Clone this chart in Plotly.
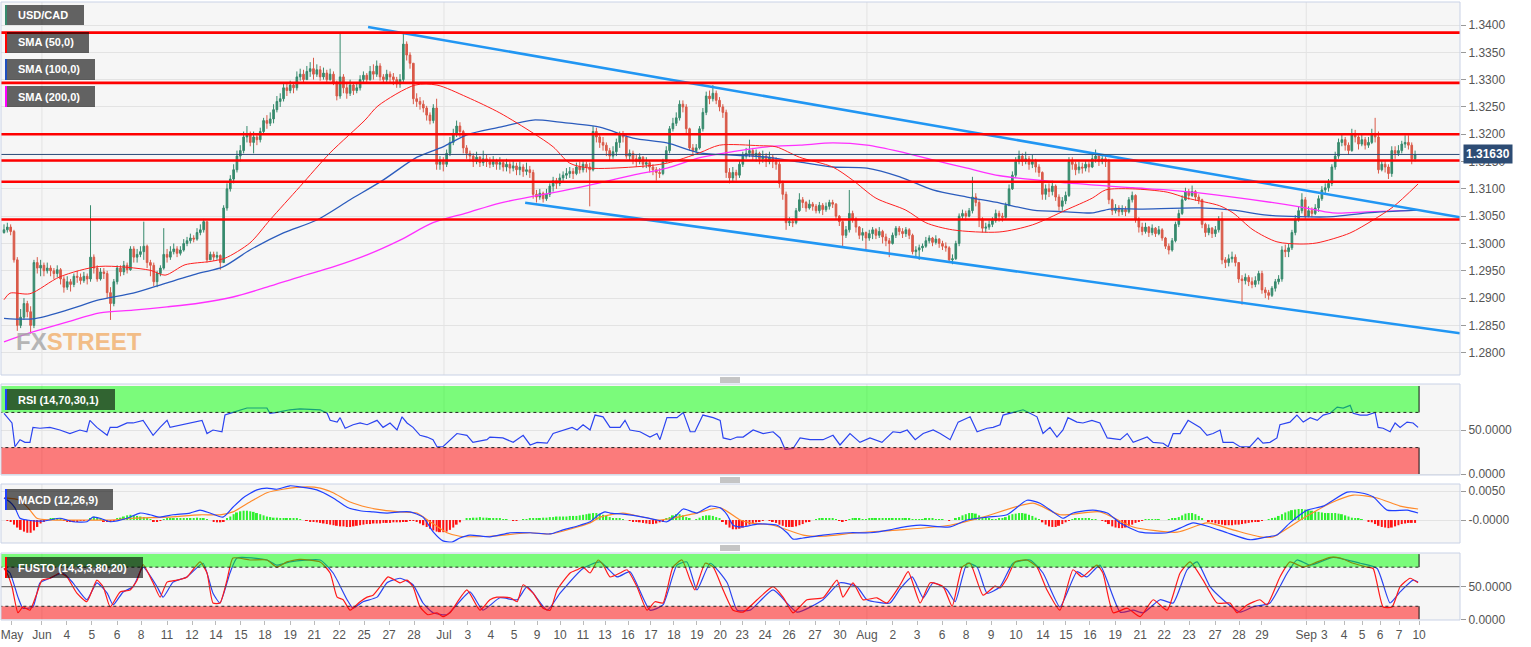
import plotly.graph_objects as go

# ===================== DATA =====================
# Prices are stored in pips relative to BASE (1 pip = 0.0001); one entry per 4h candle.
BASE = 1.3000
PIP = 0.0001
FIRST_OPEN_PIPS = 20

CLOSE_PIPS = [
    25, 30, 22, -30, -150, -135, -110, -125, -150, -35,
    -45, -40, -50, -45, -50, -55, -48, -65, -80, -70,
    -75, -60, -62, -68, -60, -65, -25, -45, -65, -52,
    -55, -90, -110, -70, -45, -52, -40, -48, -10, -25,
    -20, -15, -5, -35, -40, -70, -55, -45, -20, -25,
    -15, -10, -18, -12, 0, 5, 10, 8, 20, 25,
    40, -30, -20, -25, -22, -35, 65, 100, 118, 135,
    160, 170, 195, 200, 185, 195, 190, 205, 225, 220,
    228, 245, 260, 265, 285, 280, 290, 285, 305, 310,
    300, 315, 320, 310, 318, 305, 312, 300, 310, 295,
    270, 305, 285, 275, 290, 280, 285, 300, 308, 300,
    315, 310, 325, 305, 300, 310, 305, 300, 292, 300,
    365, 345, 330, 265, 260, 255, 248, 235, 225, 248,
    145, 150, 145, 165, 185, 200, 215, 205, 175, 165,
    160, 150, 158, 148, 155, 150, 145, 150, 145, 148,
    140, 145, 138, 142, 135, 140, 132, 135, 130, 90,
    85, 92, 82, 90, 105, 115, 110, 120, 125, 128,
    132, 128, 140, 135, 145, 140, 135, 205, 195, 185,
    180, 170, 160, 168, 185, 200, 195, 160, 165, 155,
    150, 158, 145, 148, 140, 135, 130, 128, 150, 170,
    210, 220, 230, 255, 250, 210, 175, 170, 175, 210,
    240, 270, 265, 275, 262, 250, 240, 130, 120, 130,
    125, 145, 160, 165, 170, 160, 165, 155, 160, 150,
    158, 150, 145, 110, 90, 38, 40, 38, 60, 80,
    75, 65, 72, 68, 60, 70, 62, 68, 75, 72,
    50, 40, 15, 25, 55, 45, 30, 15, 20, 10,
    18, 25, 15, 22, 12, 5, 0, 15, 28, 22,
    18, 25, 15, -15, -12, -8, -5, 5, 10, 2,
    8, 0, -5, -8, -30, -28, 0, 50, 55, 50,
    60, 85, 75, 45, 28, 30, 35, 42, 55, 50,
    48, 70, 100, 125, 150, 160, 150, 155, 145, 150,
    140, 130, 90, 100, 95, 105, 85, 68, 78, 88,
    150, 145, 135, 140, 138, 145, 140, 155, 160, 150,
    155, 150, 80, 60, 65, 58, 62, 58, 80, 88,
    45, 30, 22, 30, 20, 28, 18, 25, 10, -5,
    -12, 5, 35, 55, 80, 95, 88, 95, 85, 80,
    35, 20, 28, 18, 25, 45, -30, -35, -28, -25,
    -35, -65, -68, -62, -70, -75, -68, -55, -85, -90,
    -95, -82, -70, -65, -12, -15, -8, 20, 45, 60,
    80, 50, 60, 55, 65, 82, 98, 102, 110, 140,
    160, 185, 190, 180, 170, 200, 195, 182, 190, 180,
    185, 200, 195, 135, 145, 140, 128, 170, 165, 170,
    182, 185, 180, 155, 163,
]

HIGH_PIPS = [
    35, 38, 35, 25, -25, -120, -100, -105, -115, -30,
    -25, -30, -35, -35, -40, -45, -40, -45, -60, -60,
    -65, -55, -50, -55, -52, -55, 70, -20, -40, -45,
    -45, -50, -80, -65, -40, -40, -32, -35, -5, -5,
    -10, -5, 40, -2, -30, -35, -50, -40, 28, -10,
    -5, 0, -5, -5, 8, 12, 18, 15, 28, 35,
    45, 40, -15, -15, -15, -20, 70, 110, 125, 145,
    170, 180, 205, 215, 205, 205, 200, 212, 230, 235,
    240, 255, 270, 275, 295, 292, 298, 295, 315, 320,
    318, 325, 332, 340, 328, 325, 322, 318, 320, 315,
    298, 385, 310, 295, 300, 295, 295, 308, 315, 312,
    325, 328, 335, 330, 310, 318, 315, 312, 305, 310,
    385, 370, 350, 330, 275, 268, 262, 252, 240, 255,
    265, 160, 158, 172, 195, 210, 225, 222, 208, 180,
    170, 165, 168, 160, 170, 162, 158, 160, 155, 158,
    152, 155, 150, 152, 148, 150, 145, 148, 142, 135,
    98, 100, 95, 100, 110, 122, 120, 128, 132, 138,
    140, 138, 148, 150, 152, 150, 148, 215, 212, 200,
    195, 185, 175, 178, 192, 205, 206, 198, 172, 170,
    162, 165, 160, 158, 152, 145, 140, 138, 155, 178,
    215, 230, 240, 262, 262, 255, 212, 182, 182, 215,
    248, 278, 280, 290, 280, 268, 255, 245, 138, 140,
    135, 152, 168, 175, 190, 175, 172, 168, 170, 165,
    168, 162, 158, 150, 115, 95, 48, 46, 65, 92,
    85, 78, 80, 76, 72, 76, 74, 75, 80, 80,
    74, 52, 42, 32, 98, 60, 48, 32, 28, 22,
    25, 30, 28, 30, 25, 18, 10, 20, 32, 32,
    28, 30, 28, 18, -5, -2, 0, 12, 15, 12,
    15, 10, 5, 2, -5, -20, 5, 55, 62, 60,
    65, 122, 92, 80, 48, 38, 42, 48, 62, 60,
    56, 75, 108, 132, 158, 170, 165, 168, 160, 162,
    155, 145, 132, 108, 110, 115, 108, 90, 85, 95,
    158, 158, 150, 150, 148, 152, 150, 162, 172, 165,
    162, 162, 155, 82, 72, 70, 70, 68, 85, 95,
    90, 48, 38, 38, 32, 35, 30, 32, 28, 12,
    0, 10, 40, 62, 88, 102, 100, 106, 98, 90,
    82, 38, 35, 30, 32, 50, 58, -25, -20, -15,
    -20, -35, -58, -55, -58, -62, -60, -50, -50, -80,
    -85, -78, -65, -58, -5, -2, 0, 25, 52, 68,
    92, 85, 68, 66, 72, 88, 105, 110, 118, 145,
    168, 192, 202, 195, 185, 210, 208, 198, 200, 195,
    195, 210, 230, 205, 152, 152, 145, 178, 178, 180,
    188, 198, 198, 185, 170,
]

LOW_PIPS = [
    18, 20, 15, -35, -160, -155, -140, -135, -165, -155,
    -55, -60, -60, -55, -60, -65, -62, -75, -90, -85,
    -88, -80, -72, -75, -72, -75, -70, -55, -70, -68,
    -65, -100, -140, -115, -75, -60, -58, -55, -50, -35,
    -35, -25, -30, -45, -60, -78, -80, -60, -48, -35,
    -30, -20, -25, -22, -15, -5, 0, 2, 5, 15,
    20, -35, -30, -32, -30, -48, -35, 60, 95, 110,
    130, 150, 165, 185, 178, 165, 180, 185, 200, 210,
    215, 220, 240, 250, 260, 270, 275, 275, 280, 298,
    292, 300, 305, 300, 305, 298, 300, 295, 298, 290,
    262, 265, 275, 265, 270, 272, 275, 280, 295, 292,
    298, 300, 305, 298, 292, 295, 295, 290, 285, 285,
    295, 335, 320, 255, 250, 245, 240, 225, 218, 220,
    135, 135, 132, 140, 160, 180, 195, 195, 165, 155,
    150, 140, 145, 140, 142, 140, 138, 140, 135, 135,
    132, 132, 128, 132, 125, 125, 122, 125, 120, 82,
    75, 80, 75, 78, 85, 95, 100, 105, 112, 118,
    120, 118, 125, 128, 130, 130, 68, 132, 185, 175,
    170, 160, 152, 155, 160, 175, 185, 155, 152, 145,
    140, 145, 138, 138, 130, 125, 115, 120, 125, 148,
    165, 205, 215, 225, 240, 200, 170, 160, 165, 172,
    205, 235, 255, 260, 255, 242, 230, 120, 110, 112,
    115, 120, 140, 155, 158, 152, 150, 145, 148, 140,
    145, 138, 135, 102, 80, 25, 32, 30, 35, 58,
    65, 58, 62, 60, 55, 55, 52, 58, 62, 65,
    45, 32, -5, 10, 20, 38, 20, 8, 5, -12,
    5, 8, 8, 10, 0, -5, -25, -2, 10, 15,
    10, 12, 8, -20, -25, -30, -15, -8, 0, -5,
    -2, -8, -12, -15, -35, -38, -30, -5, 45, 42,
    48, 55, 68, 30, 20, 20, 25, 30, 38, 40,
    40, 45, 68, 98, 120, 145, 142, 145, 135, 138,
    130, 122, 80, 80, 85, 88, 78, 60, 60, 72,
    85, 135, 125, 128, 128, 132, 130, 138, 148, 142,
    145, 140, 72, 52, 55, 50, 52, 50, 55, 75,
    38, 20, 15, 18, 12, 15, 12, 15, 5, -10,
    -20, -15, 2, 30, 52, 78, 80, 85, 78, 72,
    28, 12, 15, 10, 12, 20, -38, -45, -42, -35,
    -42, -72, -112, -75, -78, -82, -80, -75, -92, -100,
    -103, -98, -88, -75, -70, -25, -25, -12, 15, 40,
    55, 45, 48, 48, 52, 58, 78, 90, 95, 105,
    135, 155, 178, 170, 162, 168, 185, 172, 178, 172,
    175, 182, 185, 128, 132, 130, 118, 122, 155, 160,
    165, 175, 172, 145, 150,
]

# Moving averages: (candle index, pips)
SMA50 = [(0, -103), (1.8, -91), (7.8, -92), (16.8, -61), (28.8, -42), (43.9, -49), (48.4, -58),
         (54.4, -39), (61.9, -33), (66.4, -27), (73.9, 1), (79.9, 43), (88.9, 104), (98, 166),
         (108.5, 226), (112.4, 252), (123.5, 290), (130.1, 290), (139.1, 268), (149, 239),
         (159, 202), (165, 177), (170, 147), (176, 138), (189, 140), (199.2, 147), (209, 166),
         (215, 180), (227, 179), (232, 177), (239, 158), (249, 140), (255, 116), (262, 83),
         (271, 61), (277, 38), (285, 25), (299, 21), (309, 34), (319, 61), (327, 83), (331, 98),
         (339, 100), (349.5, 94), (355.5, 83), (365.3, 69), (369.3, 56), (375.3, 25), (382.5, 3),
         (389.4, -1), (394.5, 1), (404.4, 19), (411.4, 43), (417.4, 67), (424.9, 109)]
SMA100 = [(0, -137), (8.7, -138), (18.9, -122), (28.8, -103), (38.8, -91), (49, -72), (58.9, -54),
          (65.8, -43), (73.9, -12), (83.8, 19), (94, 43), (104, 80), (113.9, 116), (124.1, 158),
          (131.9, 177), (139.1, 199), (149, 213), (159, 226), (167, 222), (179, 213), (189, 193),
          (199.2, 184), (209, 166), (219, 162), (229.3, 158), (239.2, 149), (249.1, 140),
          (259.3, 138), (269.2, 122), (279.1, 98), (289.4, 85), (299.3, 74), (309.2, 61),
          (319.4, 58), (327.2, 56), (332.3, 63), (341.3, 63), (359.4, 65), (369.3, 61),
          (379.5, 52), (389.4, 49), (399.3, 49), (409.6, 56), (424.9, 61)]
SMA200 = [(0, -180), (8.7, -162), (18.9, -144), (28.8, -127), (38.8, -122), (49, -116), (58.9, -109),
          (68.8, -98), (79, -80), (88.9, -61), (98.9, -43), (109.1, -21), (119, 6), (128.9, 38),
          (139.1, 56), (149, 74), (169.2, 98), (179, 111), (189, 125), (199.2, 138), (209.1, 157),
          (219, 168), (229.3, 177), (239.2, 180), (249.1, 184), (259.3, 180), (269.2, 168),
          (279.1, 153), (289.4, 138), (299.3, 124), (319.4, 111), (339.2, 102), (349.5, 98),
          (369.3, 85), (389.4, 67), (399.3, 56), (409.6, 58), (424.9, 61)]

# Support / resistance levels and channel lines
H_LEVELS = [1.3386, 1.3294, 1.3200, 1.3152, 1.3113, 1.3044]
LAST_PRICE = 1.31630
TREND_UPPER = [(109.4, 1.33963), (437.5, 1.30479)]
TREND_LOWER = [(156.6, 1.30746), (437.5, 1.28355)]

# RSI (14,70,30,1): (candle index, value)
RSI = [(0, 69), (2.4, 58), (3.3, 31), (4.8, 39), (6.3, 36), (7.8, 36), (8.7, 53), (10.8, 52), (13.8, 53),
       (16.8, 50), (19.8, 46), (22.8, 50), (24.9, 48), (25.8, 61), (27.9, 53), (28.9, 50), (31, 44),
       (31.9, 53), (34, 53), (37, 58), (38.8, 58), (41.8, 61), (43.9, 50), (44.8, 44), (46.9, 53),
       (49, 61), (49.9, 53), (53.8, 56), (56.8, 59), (59.5, 61), (61, 46), (62.8, 50), (65.5, 48),
       (66.4, 67), (68.8, 70), (73, 75), (76, 75), (79, 75), (79.9, 69), (82, 70), (85.9, 73),
       (88.9, 74), (95, 73), (97.1, 69), (98, 61), (100.1, 59), (101, 64), (102.5, 52), (104.9, 56),
       (107, 58), (109.1, 56), (112.1, 61), (113.9, 53), (116, 58), (118.1, 50), (119.6, 65),
       (121.1, 58), (122.9, 53), (125, 44), (127.1, 42), (128.9, 39), (130.1, 31), (131.9, 31),
       (134, 39), (136.1, 46), (139.1, 44), (140.9, 36), (145.1, 39), (146, 42), (149.9, 41),
       (153, 36), (156, 44), (158.1, 33), (160.2, 36), (163.2, 35), (165, 46), (168, 50),
       (170.7, 53), (172.2, 50), (174, 56), (176.1, 50), (177.6, 67), (180, 65), (182.1, 53),
       (185.1, 53), (186.6, 61), (188.1, 50), (191.1, 48), (194.1, 42), (196.2, 46), (197.1, 39),
       (199.2, 64), (202.2, 64), (204.1, 70), (206.2, 48), (207.6, 48), (210, 67), (213.1, 64),
       (215.2, 61), (216.1, 41), (218.2, 39), (220.3, 42), (222.1, 42), (225.1, 50), (228.1, 46),
       (231.1, 48), (233.2, 41), (234.7, 28), (237.1, 29), (239.2, 41), (242.2, 39), (246.1, 39),
       (249.1, 44), (251.2, 33), (254.2, 46), (257.2, 36), (260.2, 41), (263.8, 36), (267.1, 48),
       (269.3, 47), (271.4, 50), (273.8, 39), (276.2, 46), (279.2, 50), (281.3, 46), (284.3, 39),
       (286.7, 59), (290.3, 65), (292.4, 48), (295.4, 52), (297.2, 53), (299.3, 56), (300.2, 67),
       (303.2, 70), (306.2, 73), (308.3, 69), (310.4, 65), (312.2, 46), (314.3, 53), (316.4, 42),
       (318.2, 50), (319.7, 64), (322.4, 59), (324.2, 58), (326.9, 61), (329.3, 58), (331.5, 41),
       (335.4, 39), (337.5, 46), (339.3, 36), (343.5, 42), (345.3, 36), (348.3, 35), (349.8, 31),
       (351.3, 46), (353.4, 46), (355.8, 61), (359.4, 53), (361.5, 44), (363.3, 46), (365.4, 50),
       (366.3, 36), (369.3, 36), (371.4, 31), (374.4, 31), (376.8, 41), (378.3, 35), (380.4, 36),
       (382.5, 41), (383.4, 56), (386.4, 59), (388.5, 67), (390.4, 59), (392.5, 64), (394.6, 61),
       (396.4, 67), (398.5, 69), (400.6, 76), (402.4, 75), (404.5, 78), (405.4, 69), (407.5, 67),
       (409.6, 67), (412, 70), (412.9, 53), (414.4, 52), (416.5, 48), (418, 58), (419.5, 53),
       (421.6, 59), (423.4, 58), (424.9, 53)]

# MACD (12,26,9): lines as (candle index, value); histogram per candle in units of 0.0001
MACD_LINE = [(0, 0.0038), (1.8, 0.0031), (3.3, 0.0021), (4.8, 0.0003), (6.9, 0.0), (11.7, -0.0002),
             (16.8, 0.0003), (18.9, 0.0), (20.7, -0.0003), (24.9, -0.0003), (26.7, 0.0005),
             (28.9, 0.0003), (31.9, -0.0003), (37, 0.0003), (40.9, 0.0012), (43.9, 0.0009),
             (46.9, 0.0005), (50.8, 0.0009), (55.9, 0.0012), (58.9, 0.0017), (61.9, 0.0012),
             (65.8, 0.0005), (68.8, 0.0022), (71.8, 0.0038), (76, 0.0052), (79, 0.0055), (82, 0.0053),
             (85.9, 0.0059), (88.9, 0.0057), (94, 0.0052), (98.9, 0.0038), (103.1, 0.0022),
             (107, 0.0016), (110.9, 0.0014), (115.1, 0.0012), (119, 0.0014), (122, 0.0014),
             (125.9, 0.0005), (128.9, -0.0020), (131.9, -0.0036), (134.6, -0.0038), (137, -0.0031),
             (140, -0.0026), (146, -0.0029), (152.1, -0.0022), (158.1, -0.0022), (164.1, -0.0024),
             (168, -0.0017), (173.1, -0.0009), (176.1, -0.0003), (178.5, 0.0008), (180.6, 0.0014),
             (182.1, 0.0012), (186, 0.0010), (192, 0.0005), (196.2, 0.0), (199.2, -0.0003),
             (202.2, 0.0009), (204.1, 0.0019), (208.2, 0.0012), (212.2, 0.0024), (215.2, 0.0021),
             (217.3, 0.0009), (219.1, -0.0009), (222.1, -0.0012), (226.3, -0.0007), (232.3, -0.0009),
             (235.3, -0.0022), (237.1, -0.0033), (240.1, -0.0031), (246.1, -0.0026), (254.2, -0.0022),
             (260.2, -0.0022), (266.2, -0.0017), (269.3, -0.0013), (275.3, -0.0009), (284.3, -0.0012),
             (289.4, 0.0), (295.4, 0.0005), (301.4, 0.0009), (307.4, 0.0034), (311.3, 0.0029),
             (315.2, 0.0014), (318.2, 0.0003), (321.2, 0.0012), (327.2, 0.0017), (331.5, 0.0012),
             (335.4, -0.0005), (341.4, -0.0021), (349.5, -0.0022), (353.4, -0.0014), (357.3, -0.0005),
             (362.4, -0.0012), (367.5, -0.0022), (374.4, -0.0034), (379.5, -0.0029), (382.5, -0.0026),
             (386.4, -0.0005), (391.6, 0.0017), (396.4, 0.0024), (403.6, 0.0048), (407.5, 0.0047),
             (411.4, 0.0040), (415.6, 0.0017), (421.6, 0.0017), (424.9, 0.0012)]
MACD_SIGNAL = [(0, 0.0038), (4.8, 0.0034), (7.8, 0.0017), (9.9, 0.0003), (13.8, 0.0), (23.7, 0.0),
               (31.9, 0.0), (38.8, 0.0003), (49, 0.0005), (58.9, 0.0009), (64.9, 0.0009), (68.8, 0.0014),
               (73.9, 0.0031), (79, 0.0047), (83.8, 0.0053), (91, 0.0057), (95, 0.0055), (98.9, 0.0047),
               (104, 0.0031), (109.1, 0.0022), (113.9, 0.0017), (119, 0.0014), (124.1, 0.0012),
               (128, -0.0003), (133.1, -0.0022), (137, -0.0028), (146, -0.0028), (158.1, -0.0022),
               (164.1, -0.0024), (176.1, -0.0005), (179.1, 0.0005), (186, 0.0012), (196.2, 0.0),
               (201, 0.0003), (208.2, 0.0012), (215.2, 0.0021), (221.2, 0.0), (224.2, -0.0005),
               (231.1, -0.0009), (240.1, -0.0026), (246.1, -0.0028), (256.3, -0.0022), (269.3, -0.0017),
               (284.3, -0.0009), (294.2, 0.0005), (309.2, 0.0029), (317.3, 0.0009), (329.3, 0.0014),
               (339.3, -0.0012), (352.5, -0.0021), (361.5, -0.0005), (369.3, -0.0017), (377.4, -0.0029),
               (381.3, -0.0029), (389.5, 0.0), (398.5, 0.0029), (405.4, 0.0043), (412.6, 0.0038),
               (419.5, 0.0024), (424.9, 0.0019)]
MACD_HIST = [
    0, -1, -3, -8, -13, -17, -20, -22, -22, -18,
    -12, -6, -2, 0, 2, 3, 3, 2, -1, -2,
    -2, -2, -2, -1, -1, 0, 3, 6, 5, 2,
    -2, -3, -3, -1, 2, 4, 6, 8, 9, 8,
    7, 6, 5, 3, 1, -2, -2, -1, 1, 2,
    2, 3, 2, 2, 3, 3, 3, 3, 4, 3,
    2, 1, 0, -3, -4, -4, -2, 2, 6, 10,
    13, 15, 16, 16, 15, 14, 12, 10, 8, 6,
    5, 4, 4, 3, 3, 3, 2, 2, 2, 1,
    0, -1, -2, -3, -4, -5, -6, -7, -8, -9,
    -10, -11, -11, -12, -12, -11, -10, -9, -8, -7,
    -7, -6, -6, -6, -5, -5, -5, -4, -4, -4,
    -3, -2, -1, -1, -3, -6, -9, -12, -15, -18,
    -20, -21, -21, -20, -17, -13, -8, -4, 0, 2,
    3, 4, 4, 5, 4, 4, 3, 3, 2, 2,
    1, 1, 0, -1, -1, 0, 1, 1, 2, 2,
    3, 3, 4, 4, 5, 5, 6, 6, 6, 6,
    7, 7, 7, 8, 9, 10, 11, 12, 12, 11,
    9, 7, 5, 3, 2, 2, 1, 0, -1, -2,
    -3, -4, -5, -6, -7, -7, -6, -4, -2, 2,
    5, 8, 10, 10, 8, 5, 2, 0, 1, 4,
    7, 8, 8, 7, 5, 2, -2, -8, -13, -16,
    -16, -15, -13, -10, -8, -6, -4, -2, -1, 0,
    -1, -3, -5, -8, -10, -12, -12, -12, -11, -9,
    -7, -4, -2, 0, 1, 2, 2, 2, 3, 2,
    1, -1, -2, -1, 1, 2, 2, 2, 1, 1,
    2, 2, 2, 3, 3, 3, 2, 2, 3, 3,
    3, 2, 2, 1, 1, 1, 1, 2, 2, 2,
    1, 1, 1, 0, -1, 0, 2, 5, 8, 10,
    12, 12, 11, 8, 5, 3, 2, 1, 1, 2,
    3, 5, 8, 10, 11, 12, 12, 11, 9, 7,
    4, 1, -4, -8, -11, -12, -12, -10, -7, -4,
    -1, 1, 2, 2, 2, 2, 2, 1, 1, 0,
    -1, -3, -7, -11, -13, -14, -14, -13, -11, -8,
    -5, -2, -1, 1, 1, 1, 1, 1, 0, 0,
    1, 2, 3, 5, 8, 11, 12, 12, 10, 7,
    3, 0, -2, -4, -6, -7, -8, -9, -9, -9,
    -8, -8, -7, -6, -5, -4, -3, -2, -1, 0,
    1, 2, 4, 7, 10, 13, 15, 17, 18, 19,
    19, 18, 17, 16, 15, 14, 13, 12, 12, 12,
    12, 11, 10, 8, 6, 4, 3, 2, 1, 0,
    -2, -4, -7, -10, -12, -13, -14, -13, -11, -9,
    -7, -6, -5, -5, -5,
]

# Full stochastic (14,3,3,80,20): (candle index, value)
STOCH_K = [(0, 78), (0.9, 71), (2.4, 50), (4.2, 10), (5.7, 19), (7.8, 14), (9.9, 40), (11.4, 60), (13.8, 63),
           (16.8, 71), (18.9, 65), (21.9, 40), (24.9, 27), (27.9, 60), (29.8, 50), (31.9, 19), (34.9, 42),
           (37.9, 45), (40, 60), (41.8, 84), (44.8, 56), (46.9, 34), (49, 57), (52, 60), (55, 65),
           (58.9, 88), (61, 71), (62.8, 25), (64.9, 25), (67, 60), (68.8, 94), (73.9, 91), (79, 91),
           (82, 80), (85, 88), (88.9, 92), (95, 88), (98, 71), (100.1, 34), (101.9, 30), (104, 14),
           (107, 27), (109.1, 34), (110.9, 37), (113, 50), (115.4, 65), (117.5, 60), (119, 56),
           (121.1, 60), (122.9, 50), (125, 19), (127.4, 7), (130.1, 10), (131.9, 4), (134, 10),
           (139.1, 45), (143, 14), (146, 30), (148.1, 34), (152.1, 33), (154.2, 27), (156, 53),
           (159, 40), (162, 17), (164.1, 14), (166.2, 45), (170.1, 71), (172.2, 76), (174, 80),
           (176.1, 71), (178.5, 91), (180, 84), (182.1, 65), (185.1, 71), (187.2, 76), (190.2, 50),
           (193.2, 14), (195.6, 27), (198, 25), (201, 80), (203.7, 91), (206.2, 60), (207.6, 45),
           (210.7, 86), (213.1, 80), (216.1, 45), (219.1, 14), (222.1, 11), (226.3, 30), (231.1, 50),
           (234.1, 34), (237.1, 10), (241.3, 30), (246.1, 33), (250.3, 60), (252.1, 34), (255.1, 56),
           (258.1, 30), (262.3, 33), (265.3, 25), (269.3, 53), (271.7, 73), (275.3, 25), (278.3, 56),
           (282.2, 50), (284.9, 20), (287.9, 80), (290.3, 86), (294.2, 37), (297.8, 51), (299.3, 48),
           (301.4, 63), (303.8, 88), (307.4, 91), (310.4, 80), (313.4, 45), (317.3, 14), (321.2, 76),
           (323.9, 65), (328.4, 83), (330.2, 71), (333.3, 10), (337.5, 17), (341.4, 4), (345.3, 30),
           (349.5, 14), (353.4, 71), (356.4, 88), (360.3, 60), (364.5, 25), (368.4, 25), (370.5, 10),
           (373.5, 22), (377.4, 30), (379.5, 22), (383.4, 65), (386.4, 88), (390.4, 80), (394.6, 88),
           (398.5, 95), (401.5, 94), (405.4, 86), (409.6, 80), (411.4, 78), (414.4, 19), (417.1, 19),
           (419.5, 50), (422.5, 63), (424.9, 56)]
STOCH_D = [(0, 78), (1.8, 71), (4.2, 34), (5.7, 17), (8.7, 19), (10.8, 56), (13.8, 63), (17.7, 71),
           (20.7, 56), (24.9, 30), (27.9, 56), (31, 40), (32.8, 22), (35.8, 42), (38.8, 50), (41.8, 80),
           (46, 50), (47.8, 34), (50.8, 57), (55, 65), (59.8, 86), (62.8, 40), (64.9, 25), (67.9, 71),
           (70, 94), (79, 91), (82, 83), (85.9, 88), (95, 91), (98.9, 71), (103.1, 30), (104.9, 17),
           (107.9, 27), (112.1, 34), (115.1, 56), (119, 63), (122.9, 53), (125.9, 25), (128.9, 10),
           (133.1, 7), (140, 42), (143.9, 14), (149, 33), (154.2, 30), (157.2, 50), (163.2, 14),
           (167.1, 40), (174, 78), (179.1, 88), (184.2, 65), (188.1, 73), (194.1, 14), (198, 22),
           (202.2, 83), (205.2, 88), (208.2, 45), (212.2, 86), (217.3, 56), (220.3, 14), (224.2, 14),
           (231.1, 45), (238.3, 11), (246.1, 30), (251.2, 56), (256.3, 50), (259.3, 30), (266.2, 25),
           (269.3, 47), (272.9, 65), (276.2, 33), (279.2, 56), (283.4, 45), (285.8, 27), (289.4, 86),
           (292.4, 80), (295.4, 40), (299.3, 50), (303.2, 86), (308.3, 91), (312.2, 71), (317.3, 19),
           (322.4, 73), (325.4, 65), (329.3, 83), (335.4, 11), (339.3, 14), (342.3, 10), (347.4, 30),
           (351.3, 25), (355.5, 76), (358.5, 88), (362.4, 50), (366.3, 30), (371.4, 11), (375.3, 19),
           (380.4, 25), (385.6, 71), (388.5, 91), (392.5, 83), (399.4, 95), (407.5, 86), (412.6, 78),
           (416.5, 25), (419.5, 42), (423.4, 60), (424.9, 57)]

RSI_LEVELS = (30, 70)
STOCH_LEVELS = (20, 80)

# X axis labels: (text, candle index)
X_TICKS = [('May', 2.4), ('Jun', 11.4), ('4', 18.9), ('5', 26.4), ('6', 34), ('8', 41.2), ('11', 49),
           ('12', 56.5), ('14', 63.7), ('15', 71.2), ('18', 78.4), ('19', 86), ('21', 93.2), ('22', 100.7),
           ('25', 108.2), ('27', 115.7), ('28', 123.2), ('Jul', 132.2), ('3', 139.4), ('4', 146.3),
           ('5', 153.3), ('9', 160.2), ('10', 167.1), ('11', 174), ('13', 180.6), ('16', 187.5),
           ('17', 194.4), ('18', 201.3), ('19', 208.2), ('20', 215.2), ('23', 221.8), ('24', 228.7),
           ('26', 235.9), ('27', 243.7), ('30', 251.2), ('Aug', 259.3), ('2', 267.1), ('3', 274.4),
           ('6', 281.9), ('8', 289.1), ('9', 296.6), ('10', 304.1), ('14', 312.2), ('15', 319.1),
           ('16', 326.3), ('19', 333.9), ('21', 341.4), ('22', 348.6), ('23', 356.1), ('27', 363.9),
           ('28', 371.1), ('29', 378), ('Sep', 391.3), ('3', 396.7), ('4', 402.7), ('5', 408.1),
           ('6', 413.5), ('7', 419.2), ('10', 425.2)]
MONTHS = ['Jun', 'Jul', 'Aug', 'Sep']
MAIN_TICKS = [1.2800, 1.2850, 1.2900, 1.2950, 1.3000, 1.3050, 1.3100, 1.3150, 1.3200, 1.3250,
              1.3300, 1.3350, 1.3400]

# ===================== LAYOUT GEOMETRY / STYLE =====================
W, H = 1531, 647
ML, MR, MT, MB = 1, 71, 2, 27
PW, PH = W - ML - MR, H - MT - MB


def pxx(x):
    return (x - ML) / PW


def pxy(y):
    return (H - MB - y) / PH


DOM_MAIN = [pxy(375), 1.0]
DOM_RSI = [pxy(475), pxy(384)]
DOM_MACD = [pxy(543), pxy(484)]
DOM_STO = [0.0, pxy(553)]
X_RANGE = [-0.9, 437.5]

FONT = 'Liberation Sans, Arial, sans-serif'
GRID = '#e3e3e3'
BG = '#f6f6f6'
BORDER = '#c9d2e6'

# ===================== BUILD =====================
N = len(CLOSE_PIPS)
idx = list(range(N))
close = [BASE + v * PIP for v in CLOSE_PIPS]
high = [BASE + v * PIP for v in HIGH_PIPS]
low = [BASE + v * PIP for v in LOW_PIPS]
opn = [BASE + FIRST_OPEN_PIPS * PIP] + close[:-1]


def unzip(pairs, scale=None):
    xs = [p[0] for p in pairs]
    ys = [p[1] if scale is None else BASE + p[1] * scale for p in pairs]
    return xs, ys


fig = go.Figure()

fig.add_trace(go.Candlestick(
    x=idx, open=opn, high=high, low=low, close=close,
    increasing=dict(line=dict(color='#378a6d', width=1), fillcolor='#378a6d'),
    decreasing=dict(line=dict(color='#d95a49', width=1), fillcolor='#d95a49'),
    whiskerwidth=0, showlegend=False, hoverinfo='skip', xaxis='x', yaxis='y'))

for pairs, color, wdt in [(SMA200, '#ff30ff', 1.3), (SMA100, '#2b5cbd', 1.3), (SMA50, '#ff2020', 1.0)]:
    xs, ys = unzip(pairs, PIP)
    fig.add_trace(go.Scatter(x=xs, y=ys, mode='lines', line=dict(color=color, width=wdt, shape='spline', smoothing=0.8),
                             showlegend=False, hoverinfo='skip', xaxis='x', yaxis='y'))

for pairs in (TREND_UPPER, TREND_LOWER):
    xs, ys = unzip(pairs)
    fig.add_trace(go.Scatter(x=xs, y=ys, mode='lines', line=dict(color='#2196f3', width=2.6),
                             showlegend=False, hoverinfo='skip', xaxis='x', yaxis='y'))

# RSI
xs, ys = unzip(RSI)
fig.add_trace(go.Scatter(x=xs, y=ys, mode='lines', line=dict(color='#2b44f0', width=1.2),
                         showlegend=False, hoverinfo='skip', xaxis='x', yaxis='y2'))

# MACD
hist_vals = [v * PIP for v in MACD_HIST]
fig.add_trace(go.Bar(x=list(range(len(MACD_HIST))), y=hist_vals, width=0.6,
                     marker=dict(color=['#2ef02e' if v >= 0 else '#ff1414' for v in MACD_HIST], line=dict(width=0)),
                     showlegend=False, hoverinfo='skip', xaxis='x', yaxis='y3'))
xs, ys = unzip(MACD_SIGNAL)
fig.add_trace(go.Scatter(x=xs, y=ys, mode='lines', line=dict(color='#ff8a2a', width=1.2, shape='spline', smoothing=0.6),
                         showlegend=False, hoverinfo='skip', xaxis='x', yaxis='y3'))
xs, ys = unzip(MACD_LINE)
fig.add_trace(go.Scatter(x=xs, y=ys, mode='lines', line=dict(color='#2040ff', width=1.2, shape='spline', smoothing=0.6),
                         showlegend=False, hoverinfo='skip', xaxis='x', yaxis='y3'))

# Stochastic
xs, ys = unzip(STOCH_D)
fig.add_trace(go.Scatter(x=xs, y=ys, mode='lines', line=dict(color='#2b44f0', width=1.2, shape='spline', smoothing=0.5),
                         showlegend=False, hoverinfo='skip', xaxis='x', yaxis='y4'))
xs, ys = unzip(STOCH_K)
fig.add_trace(go.Scatter(x=xs, y=ys, mode='lines', line=dict(color='#ff1a1a', width=1.2, shape='spline', smoothing=0.5),
                         showlegend=False, hoverinfo='skip', xaxis='x', yaxis='y4'))

# ---------------- shapes ----------------
shapes = []
month_pos = [p for t, p in X_TICKS if t in MONTHS]
for yr in ['y', 'y2', 'y3', 'y4']:
    for m in month_pos:
        shapes.append(dict(type='line', xref='x', yref=yr + ' domain', x0=m, x1=m, y0=0, y1=1,
                           line=dict(color=GRID, width=1), layer='below'))

for lvl in H_LEVELS:
    shapes.append(dict(type='line', xref='x domain', yref='y', x0=0, x1=1, y0=lvl, y1=lvl,
                       line=dict(color='#ff0000', width=2.6), layer='above'))
shapes.append(dict(type='line', xref='x domain', yref='y', x0=0, x1=1, y0=LAST_PRICE, y1=LAST_PRICE,
                   line=dict(color='#2a4a78', width=1), layer='above'))

zone_end = X_TICKS[-1][1]
for yr, (lo, hi) in [('y2', RSI_LEVELS), ('y4', STOCH_LEVELS)]:
    shapes.append(dict(type='rect', xref='x', yref=yr, x0=-5, x1=zone_end, y0=hi, y1=100,
                       fillcolor='rgba(0,255,0,0.5)', line=dict(width=0), layer='above'))
    shapes.append(dict(type='rect', xref='x', yref=yr, x0=-5, x1=zone_end, y0=0, y1=lo,
                       fillcolor='rgba(255,0,0,0.5)', line=dict(width=0), layer='above'))
    for lv in (lo, hi):
        shapes.append(dict(type='line', xref='x', yref=yr, x0=-5, x1=zone_end, y0=lv, y1=lv,
                           line=dict(color='#222', width=1, dash='dot'), layer='above'))
    shapes.append(dict(type='line', xref='x', yref=yr, x0=zone_end, x1=zone_end, y0=hi, y1=100,
                       line=dict(color='#111', width=1), layer='above'))
    shapes.append(dict(type='line', xref='x', yref=yr, x0=zone_end, x1=zone_end, y0=0, y1=lo,
                       line=dict(color='#111', width=1), layer='above'))
shapes.append(dict(type='line', xref='x domain', yref='y4', x0=0, x1=1, y0=50, y1=50,
                   line=dict(color='#555', width=1), layer='above'))

# panel borders
for top, bot in [(2, 375), (384, 475), (484, 543), (553, 620)]:
    shapes.append(dict(type='rect', xref='paper', yref='paper', x0=pxx(1), x1=pxx(1460),
                       y0=pxy(bot), y1=pxy(top), line=dict(color=BORDER, width=1), layer='above'))

# grabbers between panels
for yc in (380, 480, 548):
    for dy in (-2, 0, 2):
        shapes.append(dict(type='line', xref='paper', yref='paper', x0=pxx(720), x1=pxx(740),
                           y0=pxy(yc + dy), y1=pxy(yc + dy), line=dict(color='#8a8a8a', width=1), layer='above'))

# label boxes
LABELS = [('USD/CAD', 5, 84, 5, 25, '#378a6d'),
          ('SMA (50,0)', 5, 89, 32, 53, '#ff0000'),
          ('SMA (100,0)', 5, 95, 59, 80, '#1f4fbf'),
          ('SMA (200,0)', 5, 95, 86, 107, '#ff00ff'),
          ('RSI (14,70,30,1)', 5, 115, 389, 410, '#2040ff'),
          ('MACD (12,26,9)', 5, 113, 489, 510, '#2040ff'),
          ('FUSTO (14,3,3,80,20)', 5, 143, 557, 578, '#ff0000')]
annotations = []
for text, x0, x1, y0, y1, col in LABELS:
    shapes.append(dict(type='rect', xref='paper', yref='paper', x0=pxx(x0 + 2), x1=pxx(x1), y0=pxy(y1), y1=pxy(y0),
                       fillcolor='rgba(0,0,0,0.6)', line=dict(width=0), layer='above'))
    shapes.append(dict(type='rect', xref='paper', yref='paper', x0=pxx(x0), x1=pxx(x0 + 2), y0=pxy(y1), y1=pxy(y0),
                       fillcolor=col, line=dict(width=0), layer='above'))
    annotations.append(dict(xref='paper', yref='paper', x=pxx(16), y=pxy((y0 + y1) / 2), xanchor='left',
                            yanchor='middle', text='<b>%s</b>' % text, showarrow=False,
                            font=dict(family=FONT, size=11, color='white')))

# watermark
annotations.append(dict(xref='paper', yref='paper', x=pxx(14), y=pxy(341), xanchor='left', yanchor='middle',
                        text="<b><span style='color:#a5a5a5'>FX</span><span style='color:#f2b06c'>STREET</span></b>",
                        showarrow=False, opacity=0.8, font=dict(family=FONT, size=24)))
# last price tag
annotations.append(dict(xref='paper', yref='y', x=pxx(1463), y=LAST_PRICE, xanchor='left', yanchor='middle',
                        text='<b>%.5f</b>' % LAST_PRICE, showarrow=False, bgcolor='#2d4c74', borderpad=2,
                        font=dict(family=FONT, size=12, color='white')))

tick_font = dict(family=FONT, size=12, color='#555')
common_y = dict(side='right', showline=False, zeroline=False, gridcolor=GRID, ticks='outside', ticklen=5,
                tickcolor='#999', tickfont=tick_font, anchor='x', fixedrange=True)

fig.update_layout(
    width=W, height=H, margin=dict(l=ML, r=MR, t=MT, b=MB),
    paper_bgcolor='white', plot_bgcolor=BG, showlegend=False, hovermode=False,
    xaxis=dict(range=X_RANGE, domain=[0, 1], anchor='y4', showgrid=False, zeroline=False, showline=False,
               tickmode='array', tickvals=[p for t, p in X_TICKS], ticktext=[t for t, p in X_TICKS],
               ticks='outside', ticklen=4, tickcolor='#bbb', tickangle=0, ticklabeloverflow='allow',
               tickfont=dict(family=FONT, size=12, color='#555'), rangeslider=dict(visible=False)),
    yaxis=dict(domain=DOM_MAIN, range=[1.27592, 1.34421], tickmode='array', tickvals=MAIN_TICKS,
               ticktext=['%.4f' % v for v in MAIN_TICKS], **common_y),
    yaxis2=dict(domain=DOM_RSI, range=[-1.14, 102.3], tickmode='array', tickvals=[0, 50],
                ticktext=['0.0000', '50.0000'], **common_y),
    yaxis3=dict(domain=DOM_MACD, range=[-0.003966, 0.006207], tickmode='array', tickvals=[0, 0.005],
                ticktext=['-0.0000', '0.0050'], **common_y),
    yaxis4=dict(domain=DOM_STO, range=[-1.07, 101.7], tickmode='array', tickvals=[0, 50],
                ticktext=['0.0000', '50.0000'], **common_y),
    shapes=shapes, annotations=annotations,
)

fig.write_html('out.html', config={'displayModeBar': False},
               post_script="document.body.style.margin='0';document.body.style.overflow='hidden';")
